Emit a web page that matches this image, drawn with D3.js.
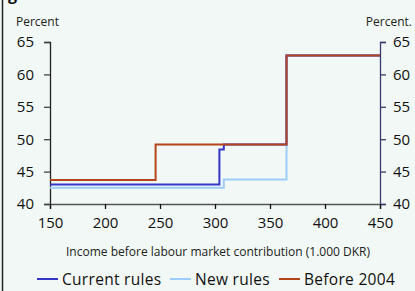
<!DOCTYPE html>
<html>
<head>
<meta charset="utf-8">
<script src="https://cdn.jsdelivr.net/npm/d3@7"></script>
<style>
  html, body { margin: 0; padding: 0; background: #f1f8f5; }
  svg { display: block; font-family: "Open Sans", sans-serif; }
</style>
</head>
<body>
<div id="chart"></div>
<script>
// income breakpoints (1.000 DKR) and marginal rates (percent), step after each point
const currentX = [150, 304, 308, 365, 450];
const currentY = [43.0, 48.4, 49.2, 62.9, 62.9];
const newX = [150, 308, 365, 450];
const newY = [42.5, 43.8, 62.9, 62.9];
const beforeX = [150, 246, 365, 450];
const beforeY = [43.7, 49.2, 62.9, 62.9];

const xTicks = [150, 200, 250, 300, 350, 400, 450];
const yTicks = [40, 45, 50, 55, 60, 65];

const seriesNames = ["Current rules", "New rules", "Before 2004"];
const seriesColors = ["#3636c8", "#9fcdfb", "#b3441c"];

const width = 415, height = 291;
const margin = {left: 50, right: 35, top: 42, bottom: 87};

const svg = d3.select("#chart").append("svg")
    .attr("width", width)
    .attr("height", height);

svg.append("rect").attr("width", width).attr("height", height).attr("fill", "#f1f8f5");

// left frame line
svg.append("line")
    .attr("x1", 2.5).attr("x2", 2.5).attr("y1", 0).attr("y2", height)
    .attr("stroke", "#222").attr("stroke-width", 1.5);

// title sits above the visible area, only the descender shows
svg.append("text").attr("x", 8).attr("y", 0)
    .attr("font-size", 16).attr("font-weight", "bold").attr("fill", "#111")
    .text("g");

const x = d3.scaleLinear().domain([150, 450]).range([margin.left, width - margin.right]);
const y = d3.scaleLinear().domain([40, 65]).range([height - margin.bottom, margin.top]);

// left axis
const yl = svg.append("g")
    .attr("transform", `translate(${margin.left},0)`)
    .call(d3.axisLeft(y).tickValues(yTicks).tickSize(6).tickPadding(10));
yl.select(".domain").attr("stroke", "#222").attr("stroke-width", 1.3);
yl.selectAll(".tick line").attr("stroke", "#444").attr("stroke-width", 1.3);
yl.selectAll("text").attr("font-size", 15).attr("fill", "#111").attr("font-family", "Open Sans");

// right axis
const yr = svg.append("g")
    .attr("transform", `translate(${width - margin.right},0)`)
    .call(d3.axisRight(y).tickValues(yTicks).tickSize(6).tickPadding(7));
yr.select(".domain").attr("stroke", "#3a3a70").attr("stroke-width", 1.3);
yr.selectAll(".tick line").attr("stroke", "#3a3a70").attr("stroke-width", 1.3);
yr.selectAll("text").attr("font-size", 15).attr("fill", "#111").attr("font-family", "Open Sans");

// bottom axis
const xa = svg.append("g")
    .attr("transform", `translate(0,${height - margin.bottom})`)
    .call(d3.axisBottom(x).tickValues(xTicks).tickSize(5).tickPadding(8));
xa.select(".domain").attr("stroke", "#555").attr("stroke-width", 1.3);
xa.selectAll(".tick line").attr("stroke", "#111").attr("stroke-width", 1.3);
xa.selectAll("text").attr("font-size", 15).attr("fill", "#111").attr("font-family", "Open Sans");

// axis titles
svg.append("text").attr("x", 16).attr("y", 26)
    .attr("font-size", 12).attr("fill", "#222").text("Percent");
svg.append("text").attr("x", 412).attr("y", 26).attr("text-anchor", "end")
    .attr("font-size", 12).attr("fill", "#222").text("Percent.");
svg.append("text").attr("x", 218).attr("y", 256).attr("text-anchor", "middle")
    .attr("font-size", 12).attr("fill", "#222")
    .text("Income before labour market contribution (1.000 DKR)");

// step lines
const line = d3.line()
    .x(d => x(d[0]))
    .y(d => y(d[1]))
    .curve(d3.curveStepAfter);

const series = [
  d3.zip(currentX, currentY),
  d3.zip(newX, newY),
  d3.zip(beforeX, beforeY)
];

// draw order: new rules under current rules under before 2004
[1, 0, 2].forEach(i => {
  svg.append("path")
    .attr("d", line(series[i]))
    .attr("fill", "none")
    .attr("stroke", seriesColors[i])
    .attr("stroke-width", 2);
});

// legend
const legendX = [37, 170, 279];
const lg = svg.append("g").selectAll("g")
  .data(seriesNames)
  .join("g")
    .attr("transform", (d, i) => `translate(${legendX[i]},279)`);
lg.append("line")
    .attr("x1", 0).attr("x2", 21)
    .attr("stroke", (d, i) => seriesColors[i]).attr("stroke-width", 2);
lg.append("text")
    .attr("x", 25).attr("y", 5.5)
    .attr("font-size", 15.5).attr("letter-spacing", 0.3).attr("fill", "#111")
    .text(d => d);
</script>
</body>
</html>
